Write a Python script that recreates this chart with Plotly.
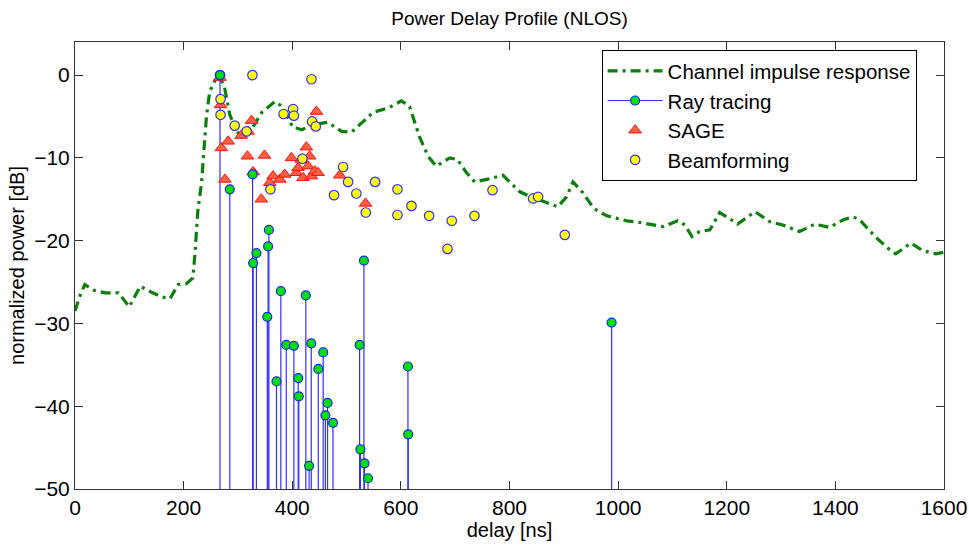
import plotly.graph_objects as go

# Channel impulse response (delay ns, power dB)
cir_x = [0, 10, 18, 35, 55, 80, 100, 120, 140, 160, 175, 190, 205, 217, 221, 226, 233, 237, 242, 248,
         258, 266, 276, 285, 298, 307, 322, 344, 368, 382, 401, 418, 436, 465, 491, 509, 549, 579, 601,
         616, 634, 650, 665, 690, 704, 721, 736, 758, 788, 819, 843, 868, 889, 905, 917, 935, 955, 979,
         1016, 1040, 1083, 1110, 1123, 1136, 1150, 1169, 1187, 1209, 1220, 1252, 1279, 1303, 1334, 1362,
         1389, 1414, 1432, 1445, 1473, 1500, 1511, 1539, 1561, 1585, 1600]
cir_y = [-28.5, -26.5, -25.3, -26.0, -26.3, -26.3, -28.0, -25.5, -26.2, -26.8, -27.0, -25.3, -25.2, -24.5,
         -21.5, -16.5, -13.0, -9.0, -5.0, -2.0, -0.6, 0.0, -1.7, -4.8, -6.8, -7.5, -6.9, -4.5, -3.2, -3.8,
         -6.3, -6.6, -6.0, -5.7, -6.8, -6.9, -4.5, -3.9, -3.1, -3.8, -7.4, -9.8, -11.0, -10.0, -10.2,
         -11.8, -12.9, -12.6, -12.1, -14.1, -14.8, -15.4, -15.9, -14.7, -12.9, -14.2, -16.1, -17.0, -17.6,
         -17.8, -18.3, -17.6, -18.1, -19.5, -18.9, -18.7, -16.6, -17.5, -18.0, -16.5, -17.7, -18.1, -18.9,
         -18.0, -18.4, -17.5, -17.1, -17.5, -19.5, -21.1, -21.6, -20.3, -21.2, -21.6, -21.4]

# Ray tracing paths
ray_x = [267, 285, 327, 328, 334, 354, 355.5, 357, 371, 379, 389, 392, 403, 411, 412, 425, 431, 435, 448,
         457, 461, 465, 475, 524, 525.5, 532, 533, 539.5, 613, 613.5, 988]
ray_y = [0.0, -13.8, -12.0, -22.7, -21.5, -29.2, -20.7, -18.7, -37.0, -26.1, -32.6, -56.0, -32.7, -36.6,
         -38.8, -26.6, -47.2, -32.4, -35.5, -33.5, -41.1, -39.6, -42.0, -32.6, -45.2, -22.4, -46.9, -48.7,
         -35.2, -43.4, -29.9]

# SAGE estimates
sage_x = [267, 268, 269.5, 282, 276, 306, 318.6, 325, 317.5, 349, 328, 343, 358.6, 364.7, 377, 386, 398.5,
          407.7, 410.7, 416.9, 420, 426, 429, 432, 435.4, 441.4, 447.5, 444.5, 487.5, 535]
sage_y = [-0.3, -3.6, -8.8, -8.0, -12.6, -7.3, -6.8, -5.5, -9.8, -9.7, -11.7, -15.0, -13.0, -12.2, -12.6,
          -12.0, -10.0, -11.8, -11.2, -10.2, -12.4, -8.7, -11.0, -9.8, -12.2, -11.6, -11.8, -4.4, -12.1, -15.5]

# Beamforming estimates
beam_x = [267, 326.7, 435.4, 268, 268, 294, 316, 384, 401.5, 403, 436.5, 443.3, 418.7, 493.6, 502.8, 518,
          477, 359.8, 552.5, 535.4, 593.7, 593.7, 619.5, 652, 693.7, 735.5, 685.8, 768.7, 843.5, 852.7, 901.8]
beam_y = [0.0, 0.0, -0.5, -2.9, -4.8, -6.1, -6.8, -4.7, -4.1, -4.9, -5.6, -6.2, -10.1, -11.1, -12.9, -14.3,
          -14.5, -13.8, -12.9, -16.6, -13.8, -16.9, -15.8, -17.0, -17.6, -17.0, -21.0, -13.9, -14.9, -14.7, -19.3]

x_ticks = [0, 200, 400, 600, 800, 1000, 1200, 1400, 1600]
y_ticks = [-50, -40, -30, -20, -10, 0]
STEM_BASE = -60

FONT = "Liberation Sans, Arial, sans-serif"

stem_x, stem_y = [], []
for x, y in zip(ray_x, ray_y):
    stem_x += [x, x, None]
    stem_y += [y, STEM_BASE, None]

fig = go.Figure()
fig.add_trace(go.Scatter(
    x=cir_x, y=cir_y, mode="lines", name="Channel impulse response",
    line=dict(color="#0a800a", width=3.2, dash="10px,5px,3px,5px"), legendrank=1))
fig.add_trace(go.Scatter(
    x=stem_x, y=stem_y, mode="lines", showlegend=False, hoverinfo="skip",
    line=dict(color="#3030ff", width=1.2)))
fig.add_trace(go.Scatter(
    x=sage_x, y=sage_y, mode="markers", name="SAGE", legendrank=3,
    marker=dict(symbol="triangle-up", size=11, color="#ff6040", line=dict(color="#ff1010", width=1))))
fig.add_trace(go.Scatter(
    x=beam_x, y=beam_y, mode="markers", name="Beamforming", legendrank=4,
    marker=dict(symbol="circle", size=9.5, color="#ffff00", line=dict(color="#3030ff", width=1.2))))
fig.add_trace(go.Scatter(
    x=ray_x, y=ray_y, mode="markers", showlegend=False,
    marker=dict(symbol="circle", size=9, color="#00e000", line=dict(color="#2020ff", width=1.2))))
fig.add_trace(go.Scatter(
    x=[None], y=[None], mode="lines+markers", name="Ray tracing", legendrank=2,
    line=dict(color="#3030ff", width=1.2),
    marker=dict(symbol="circle", size=9, color="#00e000", line=dict(color="#2020ff", width=1.2))))

axis_common = dict(showgrid=False, zeroline=False, showline=True, linecolor="#333333", linewidth=1,
                   mirror="ticks", ticks="inside", ticklen=8, tickcolor="#333333", automargin=False,
                   tickfont=dict(family=FONT, size=21, color="black"))

fig.update_layout(
    width=969, height=547,
    margin=dict(l=75, r=25, t=42, b=58),
    paper_bgcolor="white", plot_bgcolor="white",
    title=dict(text="Power Delay Profile (NLOS)", x=0.5, xref="paper", y=1 - 18 / 547, yanchor="middle",
               font=dict(family=FONT, size=19, color="black")),
    xaxis=dict(range=[0, 1600], tickvals=x_ticks, title=dict(text="delay [ns]", standoff=3,
               font=dict(family=FONT, size=20, color="black")), **axis_common),
    yaxis=dict(range=[-50, 4], tickvals=y_ticks, title=dict(text="normalized power [dB]", standoff=4,
               font=dict(family=FONT, size=20, color="black")), **axis_common),
    legend=dict(x=0.606, y=0.982, xanchor="left", yanchor="top", bgcolor="white",
                bordercolor="black", borderwidth=1, itemwidth=55,
                font=dict(family=FONT, size=20.5, color="black"), tracegroupgap=0),
    showlegend=True,
)

fig.write_html("out.html")
